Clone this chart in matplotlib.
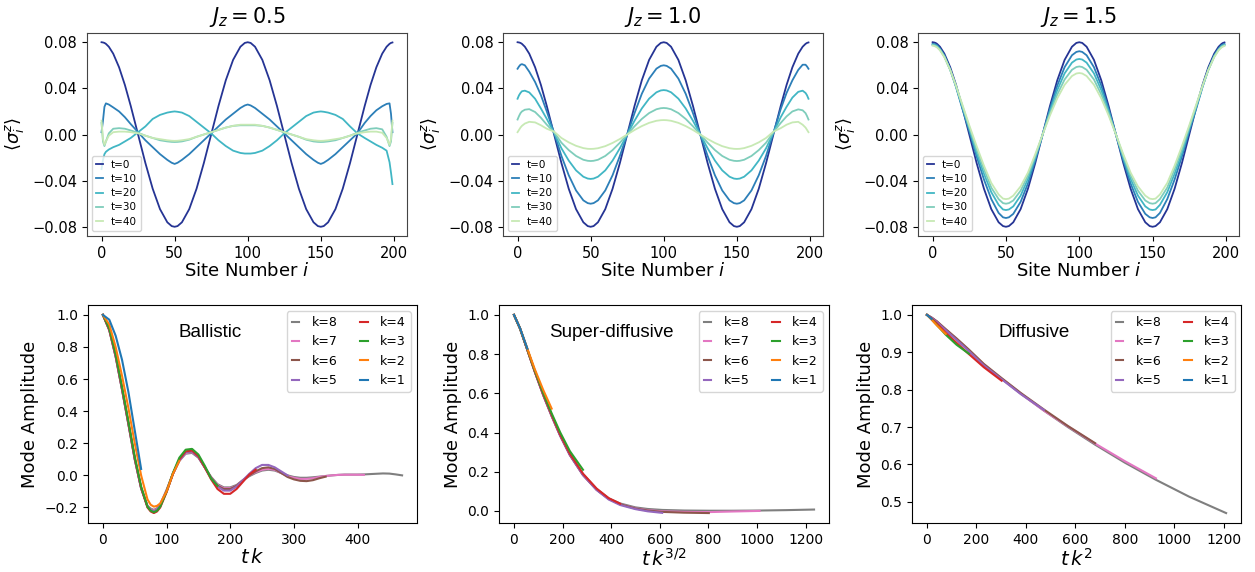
import matplotlib
matplotlib.use('Agg')
import matplotlib.pyplot as plt

# ---------------- top row: spin profiles ----------------
sites = [0, 1, 2, 3, 5, 8, 12, 16, 20, 25,
         30, 35, 40, 45, 48, 50, 52, 55, 60, 65, 70, 75,
         80, 85, 90, 95, 98, 100, 102, 105, 110, 115, 120, 125,
         130, 135, 140, 145, 148, 150, 152, 155, 160, 165, 170, 175,
         180, 184, 188, 192, 195, 197, 198, 199]
jz_titles = [r'$J_z = 0.5$', r'$J_z = 1.0$', r'$J_z = 1.5$']
time_labels = ['t=0', 't=10', 't=20', 't=30', 't=40']
time_colors = ['#253494', '#2c7fb8', '#41b6c4', '#7fcdbb', '#c7e9b4']

profile_t0 = [0.0800, 0.0798, 0.0794, 0.0786, 0.0761, 0.0701, 0.0583, 0.0429, 0.0247, 0.0000,
              -0.0247, -0.0470, -0.0647, -0.0761, -0.0794, -0.0800, -0.0794, -0.0761, -0.0647, -0.0470, -0.0247, 0.0000,
              0.0247, 0.0470, 0.0647, 0.0761, 0.0794, 0.0800, 0.0794, 0.0761, 0.0647, 0.0470, 0.0247, 0.0000,
              -0.0247, -0.0470, -0.0647, -0.0761, -0.0794, -0.0800, -0.0794, -0.0761, -0.0647, -0.0470, -0.0247, 0.0000,
              0.0247, 0.0429, 0.0583, 0.0701, 0.0761, 0.0786, 0.0794, 0.0798]

jz05_t10 = [0.002, 0.012, 0.024, 0.027, 0.026, 0.0235, 0.020, 0.015, 0.009, 0.002,
            -0.005, -0.011, -0.017, -0.022, -0.0245, -0.0255, -0.0245, -0.022, -0.017, -0.011, -0.005, 0.001,
            0.007, 0.013, 0.018, 0.023, 0.0252, 0.026, 0.0252, 0.023, 0.018, 0.013, 0.007, 0.001,
            -0.005, -0.011, -0.017, -0.022, -0.0245, -0.0255, -0.0245, -0.022, -0.017, -0.011, -0.005, 0.001,
            0.010, 0.016, 0.021, 0.0245, 0.0265, 0.027, 0.018, 0.002]
jz05_t20 = [-0.030, -0.022, -0.017, -0.015, -0.013, -0.011, -0.009, -0.006, -0.003, 0.002,
            0.007, 0.0135, 0.017, 0.019, 0.0197, 0.020, 0.0197, 0.019, 0.016, 0.011, 0.006, 0.001,
            -0.005, -0.010, -0.014, -0.016, -0.0165, -0.0165, -0.0165, -0.016, -0.014, -0.010, -0.005, 0.001,
            0.006, 0.011, 0.016, 0.019, 0.0197, 0.020, 0.0197, 0.019, 0.017, 0.0135, 0.007, 0.001,
            -0.003, -0.006, -0.009, -0.0115, -0.014, -0.024, -0.033, -0.043]
jz05_t30 = [0.010, -0.006, -0.010, -0.006, 0.001, 0.005, 0.0055, 0.005, 0.0035, 0.0015,
            -0.001, -0.003, -0.005, -0.006, -0.0064, -0.0065, -0.0064, -0.006, -0.0045, -0.002, 0.000, 0.002,
            0.004, 0.006, 0.0075, 0.008, 0.008, 0.008, 0.008, 0.008, 0.0075, 0.006, 0.004, 0.002,
            0.000, -0.002, -0.0045, -0.006, -0.0064, -0.0065, -0.0064, -0.006, -0.005, -0.003, -0.001, 0.0015,
            0.0035, 0.005, 0.0055, 0.0045, -0.002, -0.010, -0.006, 0.010]
jz05_t40 = [0.012, -0.004, -0.009, -0.006, -0.001, 0.002, 0.0025, 0.0025, 0.002, 0.001,
            -0.001, -0.003, -0.004, -0.005, -0.0054, -0.0055, -0.0054, -0.005, -0.004, -0.002, 0.000, 0.002,
            0.004, 0.006, 0.0075, 0.0085, 0.0085, 0.0085, 0.0085, 0.0085, 0.0075, 0.006, 0.004, 0.002,
            0.000, -0.002, -0.004, -0.005, -0.0054, -0.0055, -0.0054, -0.005, -0.004, -0.003, -0.001, 0.001,
            0.002, 0.0025, 0.0025, 0.0015, -0.003, -0.009, -0.004, 0.012]

jz10_t10 = [0.057, 0.059, 0.0605, 0.061, 0.060, 0.0545, 0.0455, 0.034, 0.020, 0.0015,
            -0.0185, -0.0353, -0.0485, -0.0571, -0.0595, -0.0600, -0.0595, -0.0571, -0.0485, -0.0353, -0.0185, 0.0000,
            0.0185, 0.0353, 0.0485, 0.0571, 0.0595, 0.0600, 0.0595, 0.0571, 0.0485, 0.0353, 0.0185, 0.0000,
            -0.0185, -0.0353, -0.0485, -0.0571, -0.0595, -0.0600, -0.0595, -0.0571, -0.0485, -0.0353, -0.0185, 0.0015,
            0.022, 0.036, 0.047, 0.056, 0.0605, 0.0605, 0.059, 0.057]
jz10_t20 = [0.031, 0.034, 0.036, 0.0375, 0.038, 0.0365, 0.031, 0.0225, 0.0135, 0.0015,
            -0.0119, -0.0226, -0.0311, -0.0366, -0.0382, -0.0385, -0.0382, -0.0366, -0.0311, -0.0226, -0.0119, 0.0000,
            0.0119, 0.0226, 0.0311, 0.0366, 0.0382, 0.0385, 0.0382, 0.0366, 0.0311, 0.0226, 0.0119, 0.0000,
            -0.0119, -0.0226, -0.0311, -0.0366, -0.0382, -0.0385, -0.0382, -0.0366, -0.0311, -0.0226, -0.0119, 0.0015,
            0.015, 0.024, 0.032, 0.037, 0.038, 0.036, 0.034, 0.031]
jz10_t30 = [0.013, 0.016, 0.0185, 0.020, 0.0215, 0.022, 0.0195, 0.0145, 0.0085, 0.002,
            -0.0071, -0.0135, -0.0186, -0.0219, -0.0228, -0.0230, -0.0228, -0.0219, -0.0186, -0.0135, -0.0071, 0.0000,
            0.0071, 0.0135, 0.0186, 0.0219, 0.0228, 0.0230, 0.0228, 0.0219, 0.0186, 0.0135, 0.0071, 0.0000,
            -0.0071, -0.0135, -0.0186, -0.0219, -0.0228, -0.0230, -0.0228, -0.0219, -0.0186, -0.0135, -0.0071, 0.002,
            0.010, 0.0157, 0.020, 0.0218, 0.021, 0.0185, 0.016, 0.013]
jz10_t40 = [0.002, 0.004, 0.006, 0.0075, 0.0095, 0.011, 0.0105, 0.008, 0.005, 0.0025,
            -0.003, -0.0068, -0.0098, -0.0118, -0.0124, -0.0125, -0.0124, -0.0119, -0.0101, -0.0073, -0.0039, 0.0000,
            0.0039, 0.0073, 0.0101, 0.0119, 0.0124, 0.0125, 0.0124, 0.0119, 0.0101, 0.0073, 0.0039, 0.0000,
            -0.0039, -0.0073, -0.0101, -0.0119, -0.0124, -0.0125, -0.0124, -0.0118, -0.0098, -0.0068, -0.003, 0.0025,
            0.0055, 0.0085, 0.0105, 0.011, 0.0085, 0.006, 0.004, 0.002]

jz15_t10 = [0.0785, 0.0784, 0.078, 0.0774, 0.0745, 0.0685, 0.0565, 0.041, 0.0235, 0.003,
            -0.019, -0.039, -0.056, -0.068, -0.0718, -0.0724, -0.0718, -0.0688, -0.0584, -0.0424, -0.0223, 0.000,
            0.0223, 0.0424, 0.0584, 0.0687, 0.0716, 0.0722, 0.0716, 0.0687, 0.0584, 0.0424, 0.0223, 0.000,
            -0.0223, -0.0424, -0.0584, -0.0688, -0.0718, -0.0724, -0.0718, -0.068, -0.056, -0.039, -0.019, 0.003,
            0.0235, 0.041, 0.0565, 0.0685, 0.0745, 0.0774, 0.078, 0.0784]
jz15_t20 = [0.078, 0.0778, 0.0774, 0.0767, 0.0738, 0.068, 0.056, 0.0415, 0.025, 0.005,
            -0.016, -0.034, -0.050, -0.061, -0.0650, -0.0655, -0.0650, -0.0623, -0.053, -0.0385, -0.0202, 0.000,
            0.0202, 0.0385, 0.053, 0.0623, 0.0650, 0.0655, 0.0650, 0.0623, 0.053, 0.0385, 0.0202, 0.000,
            -0.0202, -0.0385, -0.053, -0.0623, -0.0650, -0.0655, -0.0650, -0.061, -0.050, -0.034, -0.016, 0.005,
            0.025, 0.0415, 0.056, 0.068, 0.0738, 0.0767, 0.0774, 0.0778]
jz15_t30 = [0.0775, 0.0773, 0.0768, 0.076, 0.0735, 0.0675, 0.056, 0.042, 0.026, 0.0065,
            -0.013, -0.030, -0.046, -0.056, -0.0595, -0.060, -0.0595, -0.0572, -0.0487, -0.0354, -0.0186, 0.000,
            0.0182, 0.0347, 0.0477, 0.0561, 0.0585, 0.059, 0.0585, 0.0561, 0.0477, 0.0347, 0.0182, 0.000,
            -0.0186, -0.0354, -0.0487, -0.0572, -0.0595, -0.060, -0.0595, -0.056, -0.046, -0.030, -0.013, 0.0065,
            0.026, 0.042, 0.056, 0.0675, 0.0735, 0.076, 0.0768, 0.0773]
jz15_t40 = [0.077, 0.0768, 0.0762, 0.0755, 0.073, 0.067, 0.056, 0.042, 0.027, 0.008,
            -0.010, -0.027, -0.042, -0.052, -0.0556, -0.056, -0.0556, -0.053, -0.045, -0.033, -0.017, 0.000,
            0.0165, 0.0313, 0.0431, 0.0507, 0.0529, 0.0533, 0.0529, 0.0507, 0.0431, 0.0313, 0.0165, 0.000,
            -0.017, -0.033, -0.045, -0.053, -0.0556, -0.056, -0.0556, -0.052, -0.042, -0.027, -0.010, 0.008,
            0.027, 0.042, 0.056, 0.067, 0.073, 0.0755, 0.0762, 0.0768]

# ---------------- bottom row: mode amplitudes ----------------
k_labels = ['k=8', 'k=7', 'k=6', 'k=5', 'k=4', 'k=3', 'k=2', 'k=1']
k_colors = ['#7f7f7f', '#e377c2', '#8c564b', '#9467bd', '#d62728', '#2ca02c', '#ff7f0e', '#1f77b4']

bal_x = [0, 10, 20, 30, 40, 50, 60, 70, 75, 80, 85, 90, 100, 110, 120, 130, 140, 150, 160, 170,
         180, 190, 200, 210, 220, 230, 240, 250, 260, 270, 280, 290, 300, 310, 320, 330,
         340, 350, 360, 370, 380, 390, 400, 410, 420, 430, 440, 450, 460, 470]
bal_k8 = [1.00, 0.905, 0.74, 0.535, 0.32, 0.10, -0.08, -0.19, -0.207, -0.215, -0.205, -0.18,
          -0.09, 0.01, 0.09, 0.135, 0.14, 0.11, 0.05, -0.01, -0.055, -0.075,
          -0.075, -0.06, -0.03, -0.005, 0.015, 0.03, 0.035, 0.03, 0.015, 0.0,
          -0.01, -0.015, -0.015, -0.012, -0.008, -0.004, 0.0, 0.003, 0.005, 0.005,
          0.005, 0.006, 0.008, 0.01, 0.012, 0.011, 0.006, 0.0]
bal_k7 = [1.00, 0.905, 0.74, 0.535, 0.32, 0.10, -0.08, -0.195, -0.212, -0.22, -0.21, -0.185,
          -0.095, 0.01, 0.09, 0.14, 0.145, 0.115, 0.05, -0.015, -0.06, -0.08,
          -0.08, -0.065, -0.03, 0.0, 0.02, 0.035, 0.04, 0.035, 0.015, -0.005,
          -0.015, -0.022, -0.022, -0.018, -0.01, -0.004, 0.0, 0.003, 0.004, 0.004,
          0.004, 0.003]
bal_k6 = [1.00, 0.905, 0.74, 0.535, 0.32, 0.10, -0.08, -0.195, -0.215, -0.225, -0.215, -0.19,
          -0.10, 0.01, 0.095, 0.145, 0.15, 0.115, 0.05, -0.015, -0.065, -0.085,
          -0.085, -0.065, -0.03, 0.0, 0.025, 0.045, 0.05, 0.04, 0.015, -0.01,
          -0.025, -0.034, -0.036, -0.03, -0.018, -0.008]
bal_k5 = [1.00, 0.91, 0.745, 0.54, 0.325, 0.105, -0.08, -0.195, -0.215, -0.225, -0.215, -0.19,
          -0.10, 0.01, 0.095, 0.145, 0.15, 0.115, 0.05, -0.02, -0.07, -0.095,
          -0.095, -0.07, -0.03, 0.01, 0.045, 0.065, 0.065, 0.05, 0.025, 0.0]
bal_k4 = [1.00, 0.91, 0.75, 0.545, 0.33, 0.11, -0.075, -0.20, -0.225, -0.235, -0.225, -0.20,
          -0.105, 0.01, 0.10, 0.15, 0.155, 0.12, 0.05, -0.025, -0.085, -0.115,
          -0.115, -0.085, -0.04, 0.005, 0.035]
bal_k3 = [1.00, 0.915, 0.755, 0.55, 0.335, 0.115, -0.07, -0.195, -0.22, -0.23, -0.22, -0.195,
          -0.10, 0.015, 0.11, 0.16, 0.165, 0.13, 0.06, -0.02, -0.065]
bal_k2 = [1.00, 0.94, 0.80, 0.62, 0.42, 0.20, 0.0, -0.15, -0.183, -0.195, -0.19, -0.175,
          -0.10, 0.01, 0.09]
bal_k1 = [1.00, 0.97, 0.87, 0.72, 0.52, 0.28, 0.04]

sd_x = [0, 25, 55, 85, 120, 155, 190, 230, 284, 340, 390, 437, 500, 550, 610,
        700, 802, 900, 1011, 1120, 1235]
sd_k8 = [1.0, 0.93, 0.822, 0.714, 0.595, 0.488, 0.388, 0.289, 0.188, 0.112, 0.064,
         0.038, 0.018, 0.01, 0.005, 0.002, 0.001, 0.001, 0.002, 0.004, 0.007]
sd_k7 = [1.0, 0.93, 0.821, 0.712, 0.591, 0.483, 0.383, 0.284, 0.183, 0.108, 0.061,
         0.034, 0.013, 0.004, -0.002, -0.005, -0.006, -0.003, 0.0]
sd_k6 = [1.0, 0.93, 0.821, 0.712, 0.592, 0.484, 0.384, 0.285, 0.183, 0.108, 0.061,
         0.034, 0.012, 0.002, -0.005, -0.009, -0.011]
sd_k5 = [1.0, 0.93, 0.822, 0.713, 0.593, 0.485, 0.385, 0.286, 0.183, 0.107, 0.058,
         0.03, 0.009, -0.002, -0.01]
sd_k4 = [1.0, 0.93, 0.822, 0.714, 0.597, 0.49, 0.39, 0.292, 0.19, 0.114, 0.065, 0.037]
sd_k3 = [1.0, 0.93, 0.824, 0.718, 0.603, 0.498, 0.401, 0.305, 0.21]
sd_k2 = [1.0, 0.932, 0.828, 0.725, 0.618, 0.522]
sd_k1 = [1.0, 0.932, 0.828]

dif_x = [0, 19, 40, 76, 120, 170, 230, 302, 380, 473, 570, 680, 800, 926, 1060, 1210]
dif_k8 = [1.0, 0.992, 0.982, 0.96, 0.935, 0.905, 0.867, 0.829, 0.789, 0.744, 0.70,
          0.653, 0.605, 0.559, 0.514, 0.47]
dif_k7 = [1.0, 0.992, 0.982, 0.96, 0.935, 0.905, 0.867, 0.829, 0.789, 0.744, 0.702,
          0.656, 0.609, 0.563]
dif_k6 = [1.0, 0.993, 0.983, 0.962, 0.937, 0.907, 0.869, 0.831, 0.791, 0.747, 0.703, 0.657]
dif_k5 = [1.0, 0.992, 0.981, 0.959, 0.933, 0.903, 0.865, 0.828, 0.788, 0.746]
dif_k4 = [1.0, 0.99, 0.977, 0.952, 0.925, 0.895, 0.86, 0.824]
dif_k3 = [1.0, 0.988, 0.973, 0.947, 0.92, 0.896]
dif_k2 = [1.0, 0.987, 0.972, 0.949]
dif_k1 = [1.0, 0.989]

regime_names = ['Ballistic', 'Super-diffusive', 'Diffusive']
bottom_xlabels = [r'$t\,k$', r'$t\,k^{3/2}$', r'$t\,k^2$']

# ---------------- figure ----------------
fig = plt.figure(figsize=(12.55, 5.72), dpi=100)

top_rects = [[0.0693, 0.5874, 0.2550, 0.3549],
             [0.4008, 0.5874, 0.2550, 0.3549],
             [0.7315, 0.5874, 0.2558, 0.3549]]
bot_rects = [[0.0701, 0.0857, 0.2622, 0.3811],
             [0.3976, 0.0857, 0.2630, 0.3811],
             [0.7267, 0.0857, 0.2622, 0.3811]]

top_sets = [
    [profile_t0, jz05_t10, jz05_t20, jz05_t30, jz05_t40],
    [profile_t0, jz10_t10, jz10_t20, jz10_t30, jz10_t40],
    [profile_t0, jz15_t10, jz15_t20, jz15_t30, jz15_t40],
]

for rect, title, curves in zip(top_rects, jz_titles, top_sets):
    ax = fig.add_axes(rect)
    for y, lab, col in zip(curves, time_labels, time_colors):
        ax.plot(sites, y, color=col, lw=1.3, label=lab)
    ax.set_yticks([-0.08, -0.04, 0.0, 0.04, 0.08])
    ax.set_xticks([0, 50, 100, 150, 200])
    ax.tick_params(labelsize=10.5)
    ax.set_title(title, fontsize=15, pad=7)
    ax.set_xlabel(r'Site Number $i$', fontsize=13, labelpad=1)
    ax.set_ylabel(r'$\langle\sigma_i^z\rangle$', fontsize=13)
    for sp in ax.spines.values():
        sp.set_color('#444444')
    ax.legend(loc='lower left', fontsize=7.5, handlelength=0.6, labelspacing=0.4,
              borderpad=0.4, handletextpad=0.8, framealpha=0.8)

bottom_sets = [
    (bal_x, [bal_k8, bal_k7, bal_k6, bal_k5, bal_k4, bal_k3, bal_k2, bal_k1]),
    (sd_x, [sd_k8, sd_k7, sd_k6, sd_k5, sd_k4, sd_k3, sd_k2, sd_k1]),
    (dif_x, [dif_k8, dif_k7, dif_k6, dif_k5, dif_k4, dif_k3, dif_k2, dif_k1]),
]
text_pos = [(0.37, 0.873), (0.34, 0.873), (0.37, 0.873)]

for rect, (xs, curves), name, xl, tp in zip(bot_rects, bottom_sets, regime_names,
                                              bottom_xlabels, text_pos):
    ax = fig.add_axes(rect)
    for y, lab, col in zip(curves, k_labels, k_colors):
        ax.plot(xs[:len(y)], y, color=col, lw=1.5, label=lab)
    ax.tick_params(labelsize=10)
    ax.set_xlabel(xl, fontsize=14, labelpad=1)
    ax.set_ylabel('Mode Amplitude', fontsize=13)
    ax.text(tp[0], tp[1], name, transform=ax.transAxes, ha='center', va='center',
            fontsize=13.5, family='Liberation Sans')
    ax.legend(loc='upper right', ncol=2, fontsize=9, handlelength=0.6,
              handletextpad=1.0, columnspacing=1.8, labelspacing=0.5, framealpha=0.8)

fig.savefig('out.png', dpi=100)
